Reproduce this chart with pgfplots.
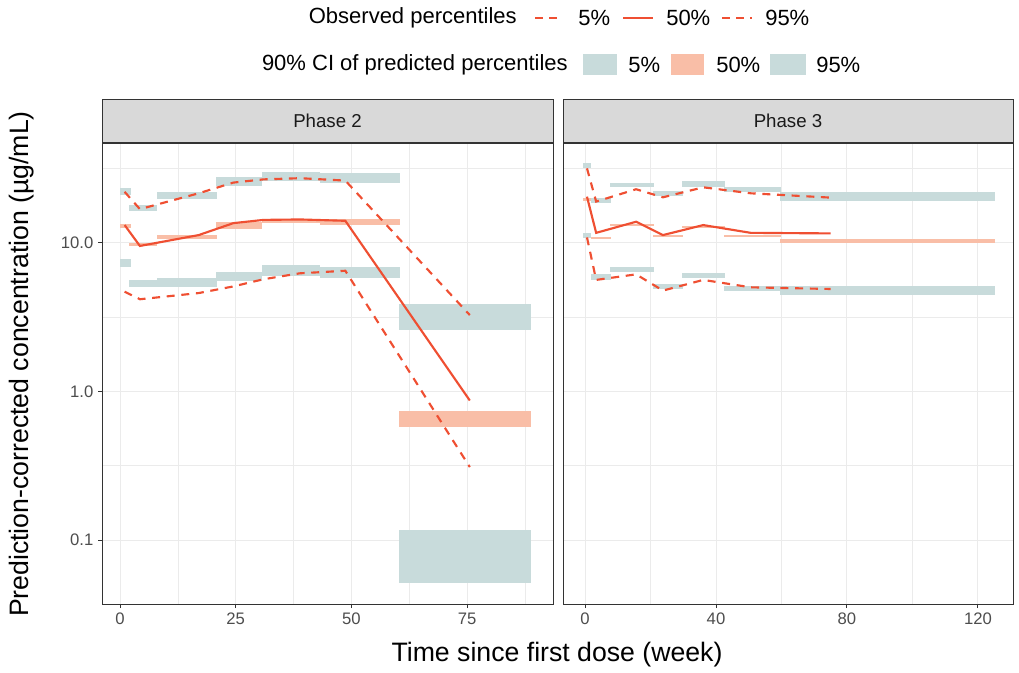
\documentclass[border=0pt]{standalone}
\usepackage{pgfplots}
\pgfplotsset{compat=1.18}
\usepackage{fontspec}
\setmainfont{Liberation Sans}
\definecolor{obsred}{RGB}{239,79,50}
\definecolor{citeal}{RGB}{200,219,219}
\definecolor{cisalmon}{RGB}{249,190,167}
\definecolor{gridgray}{RGB}{235,235,235}
\definecolor{bordergray}{RGB}{51,51,51}
\definecolor{stripgray}{RGB}{217,217,217}
\definecolor{ticktext}{RGB}{77,77,77}
\definecolor{striptext}{RGB}{26,26,26}
\pgfkeys{/pgf/number format/assume math mode=true}
\newcommand{\rect}[5]{\addplot[fill=#5,draw=none,forget plot] coordinates {(#1,#3) (#2,#3) (#2,#4) (#1,#4)};}
\pgfplotsset{
  every axis/.append style={
    scale only axis, height=345.75pt,
    grid=both,
    major grid style={gridgray, line width=0.75pt},
    minor grid style={gridgray, line width=0.5pt},
    tick pos=left, tick align=outside, major tick length=3pt, minor tick length=0pt,
    tick style={bordergray, line width=0.75pt},
    axis line style={bordergray, line width=0.75pt},
    tick label style={font=\fontsize{12.5}{15}\selectfont, text=ticktext},
    no markers,
    every axis title shift=0pt,
    title style={at={(0.5,1)}, anchor=south, yshift=0pt, fill=stripgray, draw=bordergray,
      line width=0.75pt, minimum height=32.25pt, inner sep=0pt,
      font=\fontsize{14}{16}\selectfont, text=striptext},
  },
}
\tikzset{
  obs/.style={obsred, line width=1.6pt},
  dobs/.style={obsred, line width=1.6pt, dash pattern=on 6pt off 5pt},
}
\begin{document}
\begin{tikzpicture}
\useasboundingbox (0pt,0pt) rectangle (764.25pt,-504pt);
% ---------------- Phase 2 ----------------
\begin{axis}[at={(76.5pt,-453pt)}, anchor=south west, width=338.25pt,
  ymode=log, ymin=0.0371, ymax=47.1,
  ytick={0.1,1,10}, minor ytick={0.0316,0.316,3.16,31.6},
  xmin=-3.89, xmax=93.58, xtick={0,25,50,75}, minor xtick={12.5,37.5,62.5,87.5},
  yticklabels={0.1,1.0,10.0}, title={Phase 2}, title style={minimum width=338.25pt}]
% 95% CI
\rect{0.1}{2.3}{21.0}{23.3}{citeal}
\rect{2.0}{8.1}{16.5}{18.0}{citeal}
\rect{8.1}{21.0}{19.7}{21.9}{citeal}
\rect{20.8}{30.7}{24.2}{27.7}{citeal}
\rect{30.6}{43.2}{26.3}{30.2}{citeal}
\rect{43.2}{60.5}{25.5}{29.4}{citeal}
\rect{60.3}{88.8}{2.60}{3.87}{citeal}
% 50% CI
\rect{0.1}{2.3}{12.7}{13.5}{cisalmon}
\rect{2.0}{8.1}{9.55}{10.05}{cisalmon}
\rect{8.1}{21.0}{10.7}{11.3}{cisalmon}
\rect{20.8}{30.7}{12.4}{13.9}{cisalmon}
\rect{30.6}{43.2}{13.7}{14.6}{cisalmon}
\rect{43.2}{60.5}{13.2}{14.6}{cisalmon}
\rect{60.3}{88.8}{0.58}{0.743}{cisalmon}
% 5% CI
\rect{0.1}{2.3}{6.92}{7.76}{citeal}
\rect{2.0}{8.1}{5.08}{5.63}{citeal}
\rect{8.1}{21.0}{5.08}{5.78}{citeal}
\rect{20.8}{30.7}{5.57}{6.35}{citeal}
\rect{30.6}{43.2}{6.00}{7.11}{citeal}
\rect{43.2}{60.5}{5.84}{6.92}{citeal}
\rect{60.3}{88.8}{0.051}{0.117}{citeal}
% observed
\addplot[dobs] coordinates {(1,22.1) (4.3,16.9) (17,21.6) (24.5,25.5) (31,26.8) (38.9,27.3) (48.7,26.3) (75.6,3.27)};
\addplot[obs] coordinates {(1,13.2) (4.3,9.55) (17,11.3) (24.5,13.6) (31,14.3) (38.9,14.4) (48.7,14.1) (75.6,0.87)};
\addplot[dobs] coordinates {(1,4.70) (4.3,4.18) (17,4.6) (24.5,5.1) (31,5.70) (38.9,6.25) (48.7,6.5) (75.6,0.31)};
\end{axis}
% ---------------- Phase 3 ----------------
\begin{axis}[at={(422.25pt,-453pt)}, anchor=south west, width=337.5pt,
  ymode=log, ymin=0.0371, ymax=47.1,
  ytick={0.1,1,10}, minor ytick={0.0316,0.316,3.16,31.6},
  xmin=-6.72, xmax=130.7, xtick={0,40,80,120}, minor xtick={20,60,100},
  yticklabels={}, ytick style={draw=none}, title={Phase 3}, title style={minimum width=337.5pt}]
% 95% CI
\rect{-0.5}{1.7}{31.8}{34.8}{citeal}
\rect{1.7}{7.9}{18.5}{20.0}{citeal}
\rect{7.6}{21.1}{23.9}{25.5}{citeal}
\rect{20.7}{30.0}{20.7}{22.5}{citeal}
\rect{29.7}{42.7}{23.9}{26.2}{citeal}
\rect{42.5}{59.7}{21.9}{23.9}{citeal}
\rect{59.5}{125.2}{19.3}{21.9}{citeal}
% 50% CI
\rect{-0.5}{1.7}{19.3}{20.0}{cisalmon}
\rect{1.7}{7.9}{10.6}{10.9}{cisalmon}
\rect{7.6}{21.1}{13.1}{13.4}{cisalmon}
\rect{20.7}{30.0}{11.0}{11.3}{cisalmon}
\rect{29.7}{42.7}{12.6}{13.0}{cisalmon}
\rect{42.5}{59.7}{11.0}{11.3}{cisalmon}
\rect{59.5}{125.2}{10.05}{10.6}{cisalmon}
% 5% CI
\rect{-0.5}{1.7}{10.8}{11.6}{citeal}
\rect{1.7}{7.9}{5.64}{6.15}{citeal}
\rect{7.6}{21.1}{6.35}{6.92}{citeal}
\rect{20.7}{30.0}{4.88}{5.30}{citeal}
\rect{29.7}{42.7}{5.78}{6.30}{citeal}
\rect{42.5}{59.7}{4.75}{5.13}{citeal}
\rect{59.5}{125.2}{4.47}{5.13}{citeal}
% observed
\addplot[dobs] coordinates {(0.6,31.8) (3.4,19.0) (15.6,23.0) (23.8,20.3) (36.1,23.7) (50.6,21.6) (75,20.2)};
\addplot[obs] coordinates {(0.6,20.5) (3.4,11.7) (15.6,13.9) (23.8,11.3) (36.1,13.2) (50.6,11.7) (75,11.6)};
\addplot[dobs] coordinates {(0.6,10.9) (3.4,5.64) (15.6,6.15) (23.8,4.78) (36.1,5.64) (50.6,5.03) (75,4.9)};
\end{axis}
% ---------------- titles ----------------
\node[font=\fontsize{20}{24}\selectfont, inner sep=0pt] at (417.75pt,-491.25pt) {Time since first dose (week)};
\node[font=\fontsize{20}{24}\selectfont, inner sep=0pt, rotate=90] at (16.5pt,-273pt) {Prediction-corrected concentration (µg/mL)};
% ---------------- legend ----------------
\begin{scope}[every node/.style={font=\fontsize{16.5}{19}\selectfont, inner sep=0pt}]
\node[anchor=east] at (387.75pt,-13.5pt) {Observed percentiles};
\draw[obsred, line width=1.2pt, dash pattern=on 6pt off 4.5pt] (401.25pt,-13.5pt) -- (422.25pt,-13.5pt);
\node[anchor=west] at (433.5pt,-13.5pt) {5\%};
\draw[obsred, line width=1.2pt] (467.25pt,-13.5pt) -- (489.75pt,-13.5pt);
\node[anchor=west] at (499.5pt,-13.5pt) {50\%};
\draw[obsred, line width=1.2pt, dash pattern=on 6pt off 4.5pt] (541.5pt,-13.5pt) -- (564pt,-13.5pt);
\node[anchor=west] at (573.75pt,-13.5pt) {95\%};
\node[anchor=east] at (426pt,-48.75pt) {90\% CI of predicted percentiles};
\fill[citeal] (437.25pt,-40.5pt) rectangle (462.75pt,-56.25pt);
\node[anchor=west] at (471pt,-48.75pt) {5\%};
\fill[cisalmon] (503.25pt,-40.5pt) rectangle (528pt,-56.25pt);
\node[anchor=west] at (537pt,-48.75pt) {50\%};
\fill[citeal] (577.5pt,-40.5pt) rectangle (604.5pt,-56.25pt);
\node[anchor=west] at (612pt,-48.75pt) {95\%};
\end{scope}
\end{tikzpicture}
\end{document}
